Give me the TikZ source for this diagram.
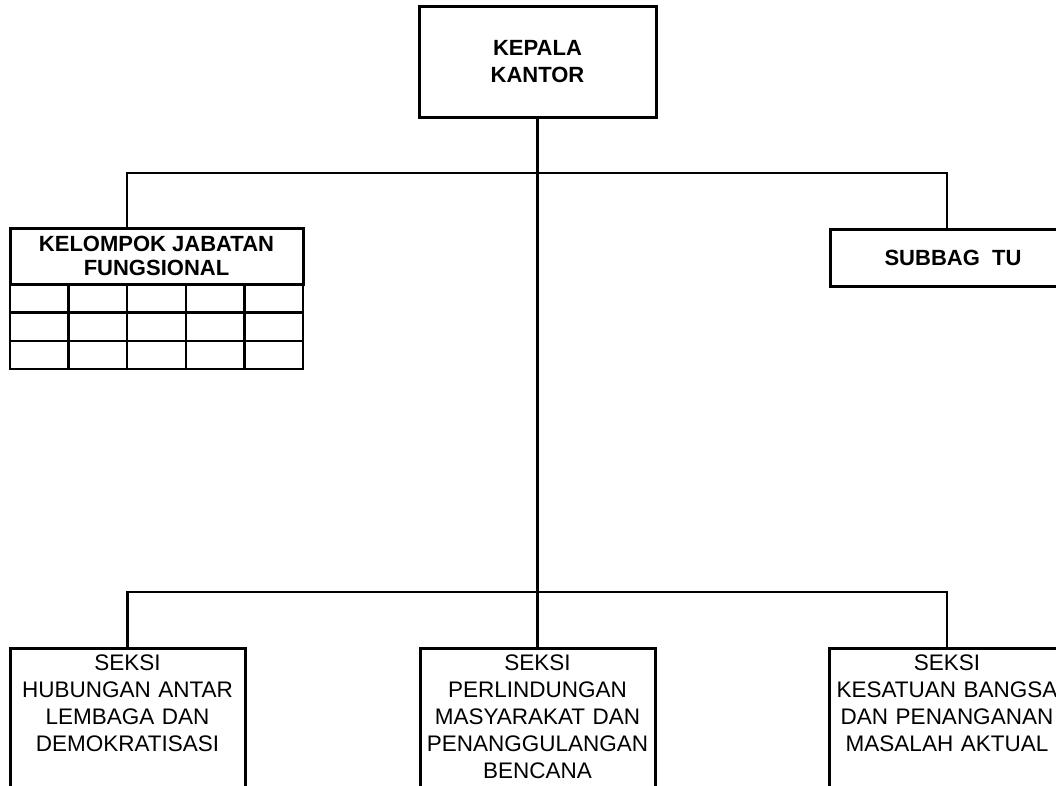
\documentclass[tikz,border=0pt]{standalone}
\usepackage{fontspec}
\setmainfont{Liberation Sans}
\tikzset{
  unitbox/.style={draw, line width=3pt, align=center, inner sep=0pt, outer sep=0pt,
    font=\bfseries\fontsize{22}{27}\selectfont},
  seksibox/.style={draw, line width=3pt, anchor=north, align=center,
    text width=227pt, inner xsep=4pt, inner ysep=7pt, text depth=150pt, outer sep=0pt,
    font=\fontsize{22.5}{27}\selectfont},
  conn/.style={line width=2.4pt},
  cell/.style={line width=2.4pt}
}
\begin{document}
\begin{tikzpicture}[x=1pt, y=-1pt]
  \useasboundingbox (0,0) rectangle (1056,785);
  \clip (0,0) rectangle (1056,785);
  % top level
  \node[unitbox, minimum width=237pt, minimum height=111pt] (kepala) at (537.5,61.5) {KEPALA\\KANTOR};
  \node[unitbox, minimum width=293pt, minimum height=56pt,
    font=\bfseries\fontsize{22}{24}\selectfont] (kjf) at (156.5,256) {KELOMPOK JABATAN\\FUNGSIONAL};
  \node[unitbox, minimum width=246pt, minimum height=57pt] (subbag) at (953,257.5) {SUBBAG~~TU};
  % grid under kjf
  \foreach \c in {0,...,4}
    \foreach \r in {0,...,2}
      \draw[cell] ([shift={(\c*58.6,\r*28.4)}]kjf.south west) rectangle ++(58.6,28.4);
  % seksi
  \node[seksibox] (hub) at (127.5,648) {SEKSI\\HUBUNGAN ANTAR\\LEMBAGA DAN\\DEMOKRATISASI};
  \node[seksibox] (lin) at (537.5,648) {SEKSI\\PERLINDUNGAN\\MASYARAKAT DAN\\PENANGGULANGAN\\BENCANA};
  \node[seksibox] (kes) at (947,648) {SEKSI\\KESATUAN BANGSA\\DAN PENANGANAN\\MASALAH AKTUAL};
  % bus lines
  \coordinate (topbus) at (537.5,173);
  \coordinate (lowbus) at (537.5,592);
  \begin{scope}[conn]
    \draw (kepala.south) -- (lin.north);
    \draw ([xshift=117pt]kjf.north west) |- (topbus) -| ([xshift=117pt]subbag.north west);
    \draw (hub.north) |- (lowbus) -| (kes.north);
  \end{scope}
\end{tikzpicture}
\end{document}
